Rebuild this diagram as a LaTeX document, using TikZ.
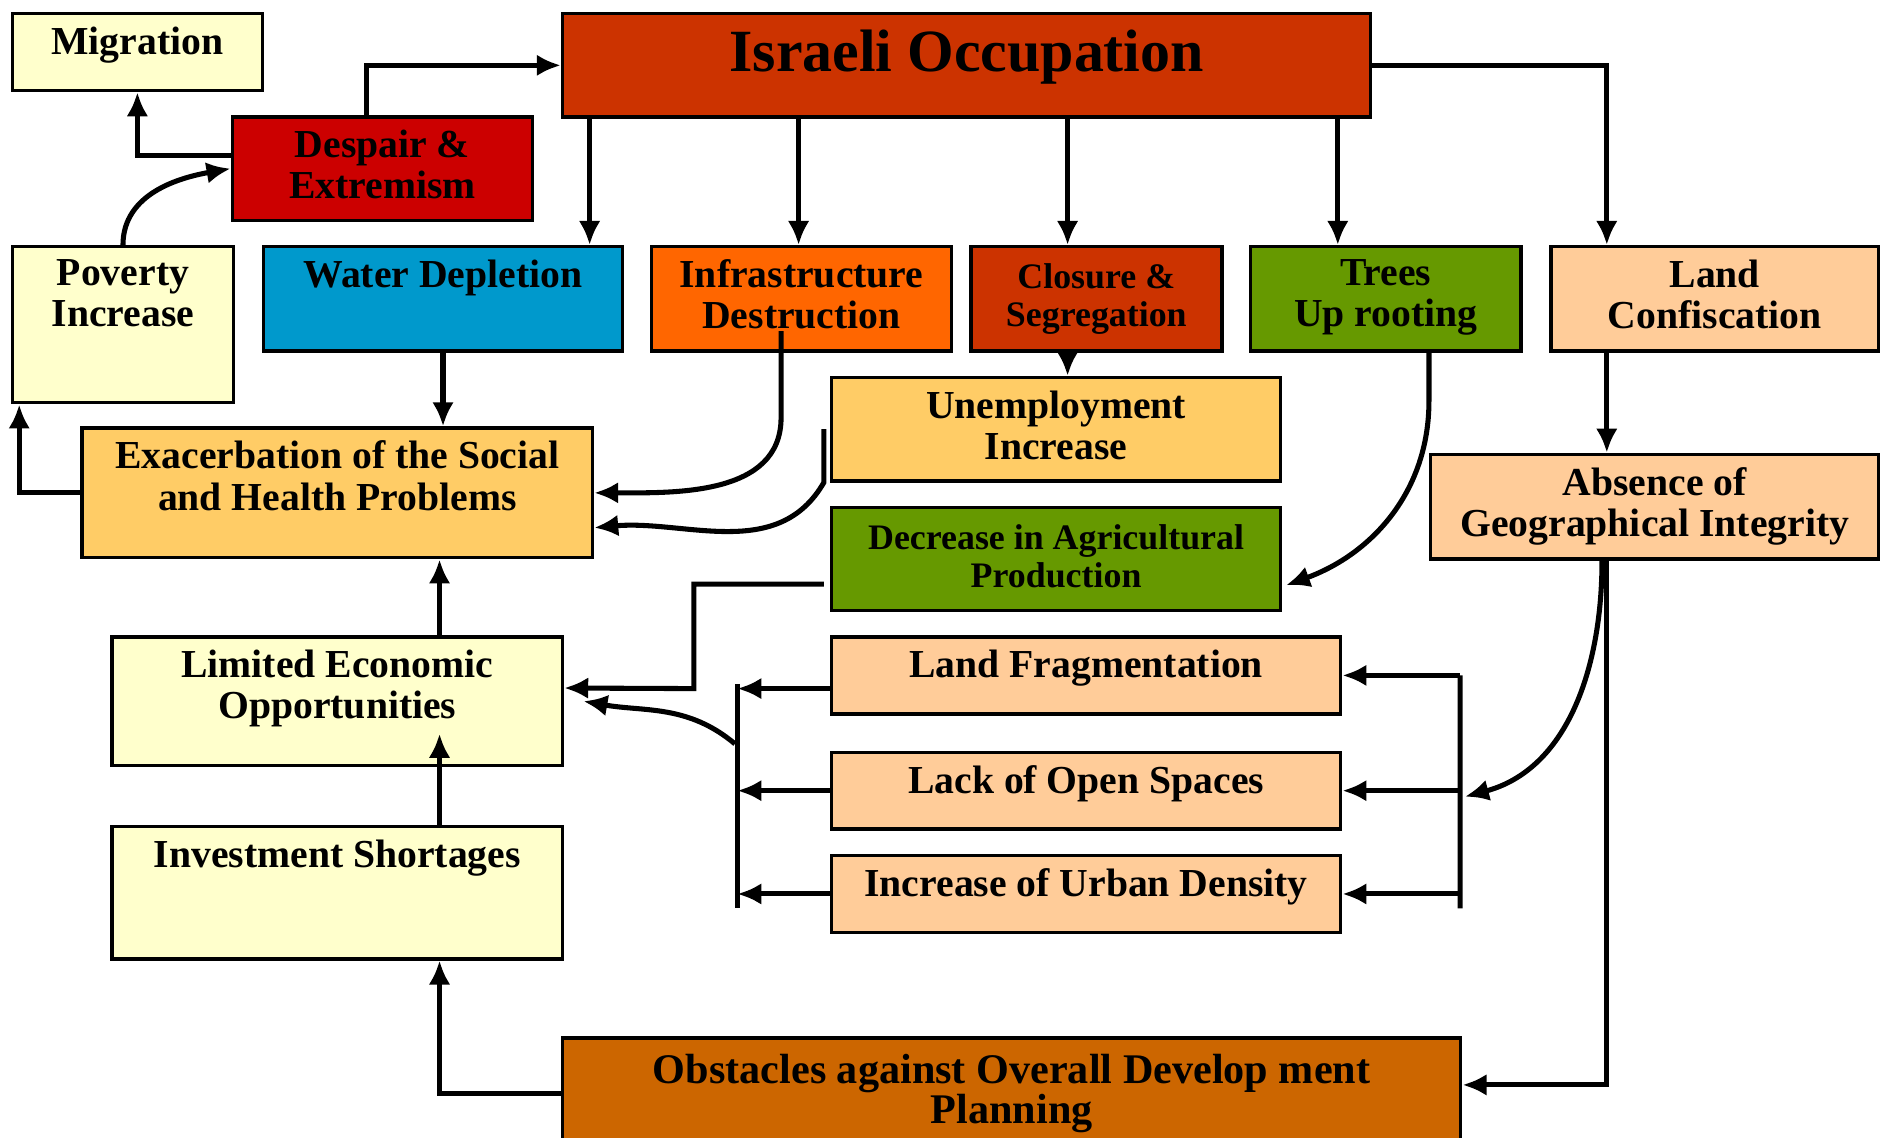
\documentclass[tikz,border=0pt]{standalone}
\usepackage{fontspec}
\setmainfont{Liberation Serif}
\usetikzlibrary{positioning,arrows.meta}
\definecolor{cream}{HTML}{FFFFCC}
\definecolor{brick}{HTML}{CC3300}
\definecolor{crimson}{HTML}{CC0000}
\definecolor{sky}{HTML}{0099CC}
\definecolor{tangerine}{HTML}{FF6600}
\definecolor{leaf}{HTML}{669900}
\definecolor{peach}{HTML}{FFCC99}
\definecolor{apricot}{HTML}{FFCC66}
\definecolor{rust}{HTML}{CC6600}

\begin{document}
\begin{tikzpicture}[
    box/.style={draw, line width=0.8pt, anchor=north west, inner sep=0pt},
    txt/.style={inner sep=0pt, align=center, font=\bfseries\fontsize{9.4}{9.75}\selectfont},
    smalltxt/.style={txt, font=\bfseries\fontsize{8.5}{9}\selectfont},
    link/.style={line width=1.2pt},
    >={Latex[length=2mm,width=1.8mm]}]
        \clip (0,0) rectangle (15.68,-9.47);
        % boxes
        \node[box, fill=cream, minimum width=2.08cm, minimum height=0.64cm] (mig) at (0.09,-0.10) {};
        \node[txt, below=1.15mm of mig.north] (migt) {Migration};
        \node[box, fill=brick, minimum width=6.73cm, minimum height=0.86cm] (occ) at (4.67,-0.10) {};
        \node[txt, font=\bfseries\fontsize{14.2}{15}\selectfont, below=1.4mm of occ.north] (occt) {Israeli Occupation};
        \node[box, fill=crimson, minimum width=2.50cm, minimum height=0.86cm] (desp) at (1.92,-0.96) {};
        \node[txt, below=1.15mm of desp.north] (despt) {Despair \&\\Extremism};
        \node[box, fill=cream, minimum width=1.84cm, minimum height=1.30cm] (pov) at (0.09,-2.04) {};
        \node[txt, below=1.15mm of pov.north] (povt) {Poverty\\Increase};
        \node[box, fill=sky, minimum width=2.99cm, minimum height=0.87cm] (water) at (2.18,-2.04) {};
        \node[txt, below=1.15mm of water.north] (watert) {Water Depletion};
        \node[box, fill=tangerine, minimum width=2.50cm, minimum height=0.87cm] (infra) at (5.41,-2.04) {};
        \node[txt, below=1.15mm of infra.north] (infrat) {Infrastructure\\Destruction};
        \node[box, fill=brick, minimum width=2.09cm, minimum height=0.87cm] (clos) at (8.07,-2.04) {};
        \node[smalltxt, below=1.5mm of clos.north] (clost) {Closure \&\\Segregation};
        \node[box, fill=leaf, minimum width=2.25cm, minimum height=0.87cm] (trees) at (10.40,-2.04) {};
        \node[txt, below=1.15mm of trees.north] (treest) {Trees\\Up rooting};
        \node[box, fill=peach, minimum width=2.73cm, minimum height=0.87cm] (landc) at (12.90,-2.04) {};
        \node[txt, below=1.15mm of landc.north] (landct) {Land\\Confiscation};
        \node[box, fill=apricot, minimum width=3.74cm, minimum height=0.86cm] (unemp) at (6.91,-3.13) {};
        \node[txt, below=1.15mm of unemp.north] (unempt) {Unemployment\\Increase};
        \node[box, fill=apricot, minimum width=4.25cm, minimum height=1.08cm] (exac) at (0.67,-3.55) {};
        \node[txt, below=1.15mm of exac.north] (exact) {Exacerbation of the Social\\and Health Problems};
        \node[box, fill=peach, minimum width=3.73cm, minimum height=0.87cm] (absn) at (11.90,-3.77) {};
        \node[txt, below=1.15mm of absn.north] (absnt) {Absence of\\Geographical Integrity};
        \node[box, fill=leaf, minimum width=3.74cm, minimum height=0.86cm] (decr) at (6.91,-4.21) {};
        \node[smalltxt, below=1.5mm of decr.north] (decrt) {Decrease in Agricultural\\Production};
        \node[box, fill=cream, minimum width=3.75cm, minimum height=1.07cm] (limit) at (0.92,-5.29) {};
        \node[txt, below=1.15mm of limit.north] (limitt) {Limited Economic\\Opportunities};
        \node[box, fill=peach, minimum width=4.24cm, minimum height=0.64cm] (frag) at (6.91,-5.29) {};
        \node[txt, below=1.15mm of frag.north] (fragt) {Land Fragmentation};
        \node[box, fill=peach, minimum width=4.24cm, minimum height=0.64cm] (lack) at (6.91,-6.25) {};
        \node[txt, below=1.15mm of lack.north] (lackt) {Lack of Open Spaces};
        \node[box, fill=peach, minimum width=4.24cm, minimum height=0.64cm] (urban) at (6.91,-7.11) {};
        \node[txt, below=1.15mm of urban.north] (urbant) {Increase of Urban Density};
        \node[box, fill=cream, minimum width=3.75cm, minimum height=1.10cm] (invest) at (0.92,-6.87) {};
        \node[txt, below=1.15mm of invest.north] (investt) {Investment Shortages};
        \node[box, fill=rust, minimum width=7.48cm, minimum height=0.92cm] (obst) at (4.67,-8.63) {};
        \node[txt, font=\bfseries\fontsize{10}{9.4}\selectfont, below=1.4mm of obst.north] (obstt) {Obstacles against Overall Develop ment\\Planning};
        % top row links
        \draw[link,->] ([xshift=-1.3mm]desp.north) |- (occ.west);
        \draw[link,->] ([yshift=1.1mm]desp.west) -| (mig.south);
        \draw[link,->] (pov.north) to[out=90,in=190] (desp.west);
        \draw[link,->] (exac.west) -| ([xshift=0.7mm]pov.south west);
        \foreach \x/\t in {4.91/water,6.65/infra,8.89/clos,11.14/trees}
            \draw[link,->] (occ.south -| \x,0) -- (\t.north -| \x,0);
        \draw[link,->] (occ.east) -| (landc.north -| 13.38,0);
        % middle links
        \draw[link,->] (water.south) -- (exac.north -| water.south);
        \draw[link,->] ([shift={(-0.17,0.18)}]infra.south) -- ++(0,-0.72) to[out=-90,in=0] (exac.east);
        \draw[link,->] (clos.south -| 8.89,0) -- (unemp.north -| 8.89,0);
        \draw[link,->] ([xshift=-0.5mm]unemp.west) -- ([xshift=-0.5mm]unemp.south west) to[out=-120,in=5] ([yshift=-2.9mm]exac.east);
        \draw[link,->] ([xshift=3.6mm]trees.south) -- ++(0,-0.4) to[out=-90,in=20] ([shift={(0.03,-0.22)}]decr.east);
        \draw[link,->] (landc.south -| 13.38,0) -- (absn.north -| 13.38,0);
        \draw[link,->] (absn.south -| 13.38,0) |- ([yshift=0.7mm]obst.east);
        \draw[link,->] (absn.south -| 13.34,0) to[out=-90,in=15] ([shift={(1.02,-0.05)}]lack.east);
        \draw[link,->] ([shift={(-0.05,-0.21)}]decr.west) -| ([shift={(1.08,-0.11)}]frag.west -| limit.east) -- ([yshift=1.1mm]limit.east);
        \draw[link,->] (limit.north -| 3.66,0) -- (exac.south -| 3.66,0);
        \draw[link,->] (invest.north -| 3.66,0) -- ([yshift=-0.82cm]limit.north -| 3.66,0);
        \draw[link,->] (obst.west) -| (invest.south -| 3.66,0);
        % brackets round the three land boxes
        \draw[link] ([xshift=9.8mm]frag.east) -- ([shift={(0.98,-0.12)}]urban.east);
        \draw[link] ([shift={(-0.77,-0.07)}]frag.west) -- ([shift={(-0.77,-0.12)}]urban.west);
        \foreach \n in {lack,urban} {
            \draw[link,->] ([xshift=9.8mm]\n.east) -- (\n.east);
            \draw[link,->] (\n.west) -- ([xshift=-7.7mm]\n.west);
        }
        \draw[link,->] ([xshift=9.8mm]frag.east) -- (frag.east);
        \draw[link,->] ([yshift=-1.1mm]frag.west) -- ([shift={(-0.77,-0.11)}]frag.west);
        \draw[link,->] ([shift={(-0.79,-0.57)}]frag.west) to[out=140,in=-10] ([xshift=1.6mm]limit.east);
    \end{tikzpicture}
\end{document}
